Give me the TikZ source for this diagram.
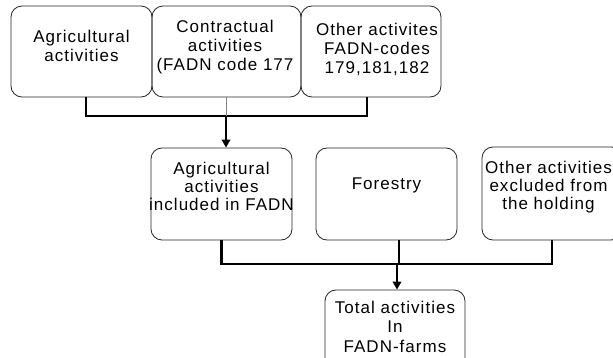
\documentclass[tikz,border=0pt]{standalone}
\usepackage{fontspec}
\setmainfont{Liberation Sans}[LetterSpace=6]
\usetikzlibrary{arrows.meta}
\begin{document}
\begin{tikzpicture}[x=1pt,y=-1pt,
  box/.style={draw=black!85,line width=0.8pt,rounded corners=11pt,inner sep=0pt,
              minimum width=#1pt,minimum height=91pt},
  txt/.style={font=\fontsize{17}{19}\selectfont,align=center,anchor=north,inner sep=0pt},
  txtm/.style={font=\fontsize{17}{18}\selectfont,align=center,anchor=north,inner sep=0pt},
  txtb/.style={font=\fontsize{17}{19.5}\selectfont,align=center,anchor=north,inner sep=0pt},
  thickline/.style={draw=black,line width=2.4pt},
  thinline/.style={draw=black!50,line width=1pt},
  arr/.style={-{Triangle[width=8.5pt,length=8pt]}}]
\useasboundingbox (0,0) rectangle (613,358);
\clip (0,0) rectangle (613,358);
\fill[white] (0,0) rectangle (613,358);
% top row
\node[box=141] (b1) at (81.5,51.5) {};
\node[box=149] (b2) at (226.5,51.5) {};
\node[box=140] (b3) at (371,51.5) {};
\node[txt] (t1) at (81.5,30) {Agricultural\\activities};
\node[txt] (t2) at (225,20) {Contractual\\activities\\(FADN code 177};
\node[txt] (t3) at (377,23) {Other activites\\FADN-codes\\179,181,182};
% middle row
\node[box=141,minimum height=92pt] (b4) at (221.5,194) {};
\node[box=141,minimum height=92pt] (b5) at (386.5,194) {};
\node[box=140,minimum height=93pt] (b6) at (552,193.5) {};
\node[txtm] (t4) at (221.5,161.5) {Agricultural\\activities\\included in FADN};
\node[txtm] (t5) at (386.5,178) {Forestry};
\node[txtm] (t6) at (548.5,160.5) {Other activities\\excluded from\\the holding};
% bottom
\node[box=140,minimum height=90pt] (b7) at (395,335) {};
\node[txtb] (t7) at (395,300.5) {Total activities\\In\\FADN-farms};
% junctions
\coordinate (j1) at (226,116);
\coordinate (j2) at (397,264);
% connectors
\draw[thickline] ([xshift=4.5pt]b1.south) |- (j1);
\draw[thickline] ([xshift=-4pt]b3.south) |- (j1);
\draw[thinline] (b2.south) -- (b2.south |- j1);
\draw[thickline,arr] (j1) -- (j1 |- b4.north);
\draw[thickline] (b4.south) |- (j2);
\draw[thickline] (b6.south) |- (j2);
\draw[thickline] ([xshift=12.5pt]b5.south) -- ([xshift=12.5pt]b5.south |- j2);
\draw[thickline,arr] (j2) -- (j2 |- b7.north);
\end{tikzpicture}
\end{document}
